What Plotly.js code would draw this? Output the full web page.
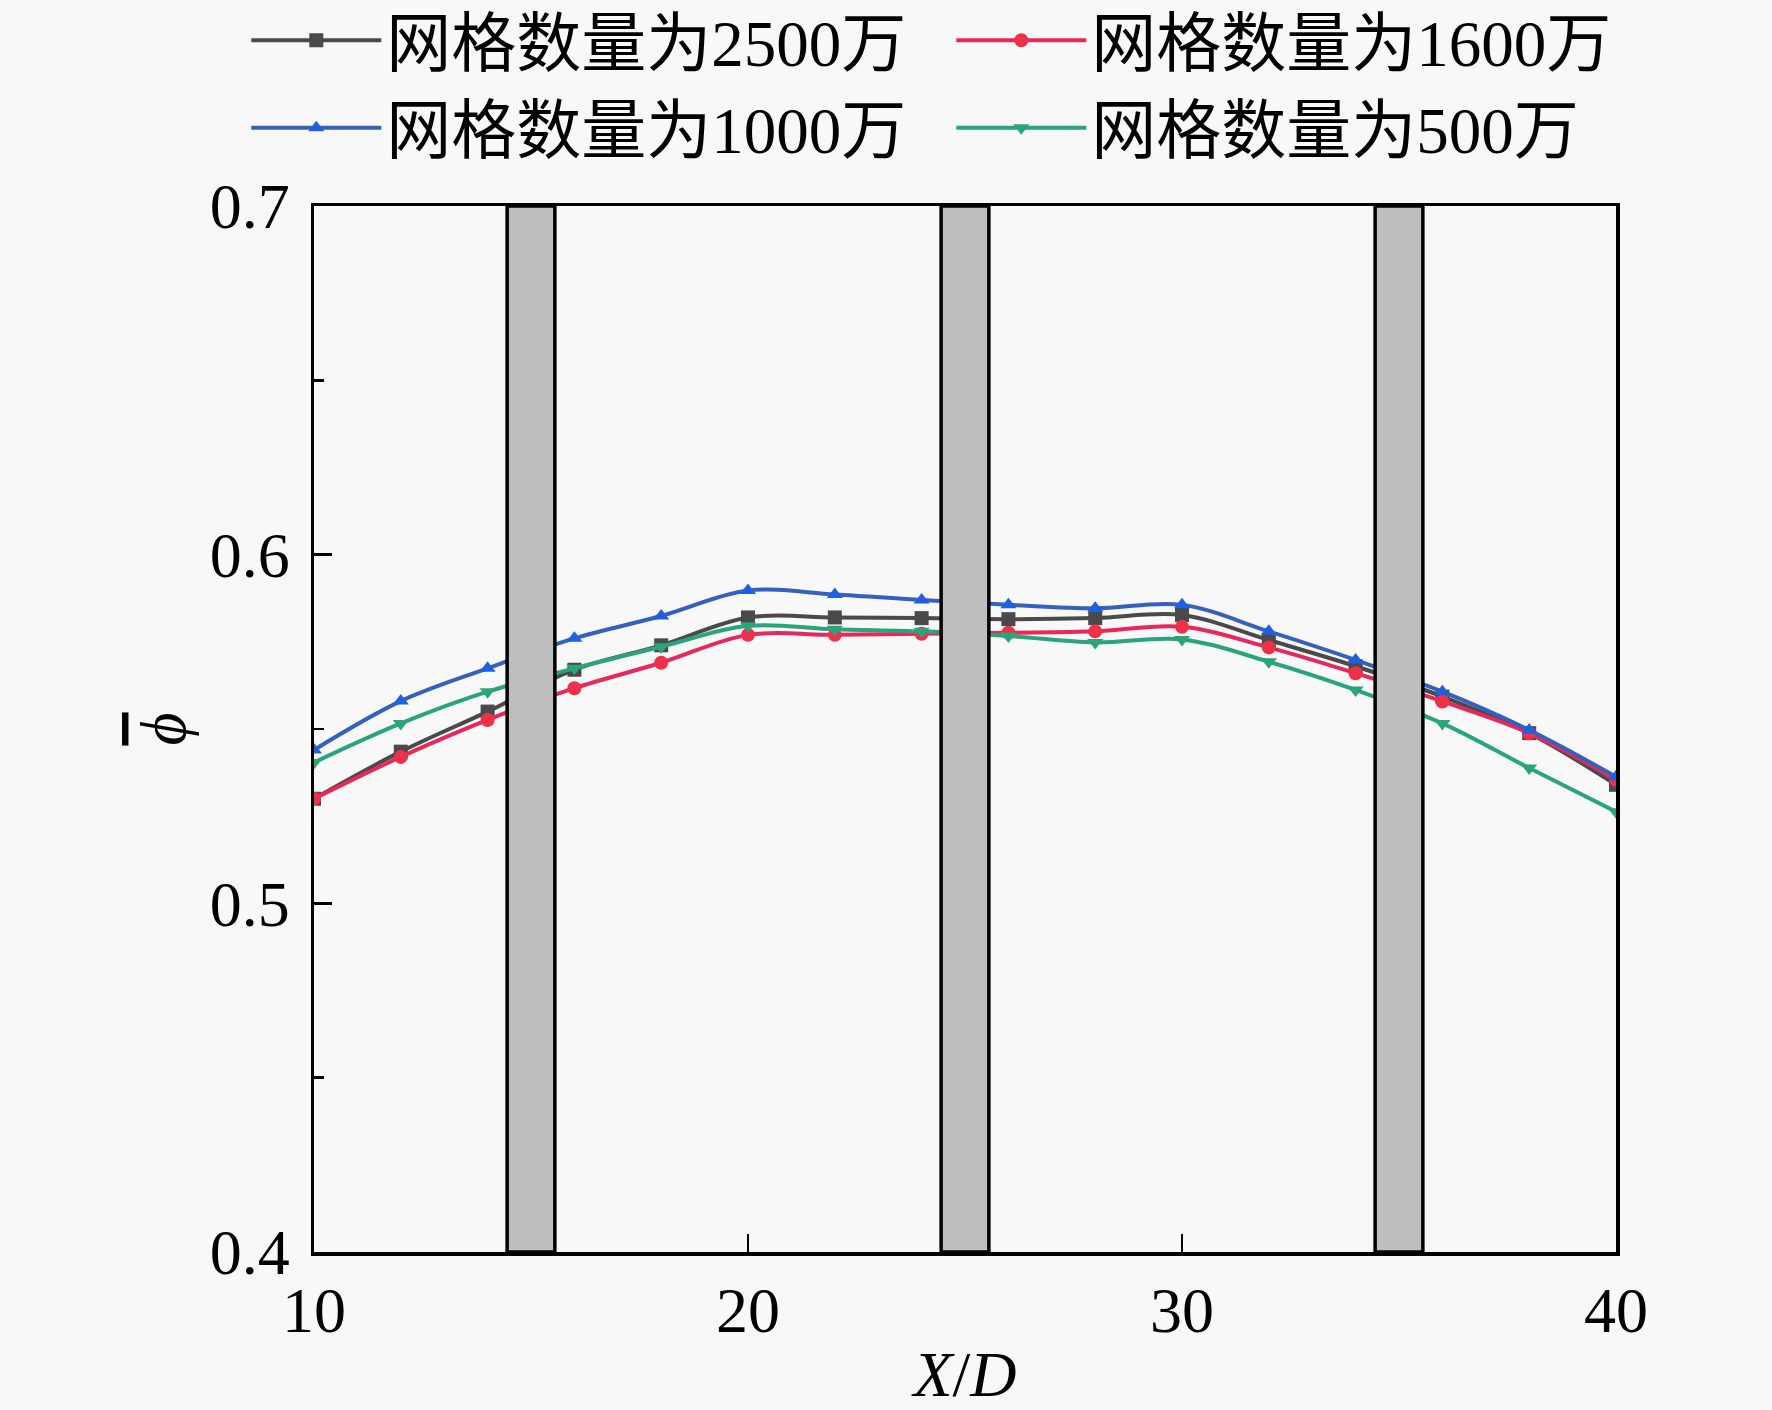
<!DOCTYPE html>
<html>
<head>
<meta charset="utf-8">
<script src="https://cdn.plot.ly/plotly-3.0.1.min.js"></script>
<style>
  html, body { margin: 0; padding: 0; background: #f8f8f8; }
  #chart { width: 1772px; height: 1410px; }
</style>
</head>
<body>
<div id="chart"></div>
<script>
// X/D positions of the sample points
const xPos = [10, 12, 14, 16, 18, 20, 22, 24, 26, 28, 30, 32, 34, 36, 38, 40];

// mean phi for each mesh size
const grid2500 = [0.530, 0.5435, 0.555, 0.567, 0.574, 0.582, 0.582, 0.5818, 0.5815, 0.5818, 0.5827, 0.5755, 0.568, 0.5593, 0.5488, 0.534];
const grid1600 = [0.530, 0.542, 0.5526, 0.5617, 0.569, 0.577, 0.577, 0.5773, 0.5776, 0.578, 0.5793, 0.5734, 0.566, 0.5579, 0.5488, 0.5354];
const grid1000 = [0.544, 0.558, 0.5674, 0.576, 0.5824, 0.5897, 0.5886, 0.587, 0.5856, 0.5846, 0.5856, 0.578, 0.5698, 0.5607, 0.5497, 0.5363];
const grid500  = [0.5404, 0.5516, 0.5607, 0.5674, 0.5736, 0.5796, 0.5786, 0.578, 0.5767, 0.5748, 0.5757, 0.5693, 0.5612, 0.5516, 0.5388, 0.5263];

const seriesNames = ['网格数量为2500万', '网格数量为1600万', '网格数量为1000万', '网格数量为500万'];

// grey bands (obstacles) along X/D
const bandStart = [14.45, 24.45, 34.45];
const bandEnd   = [15.55, 25.55, 35.55];

const yTicks = [0.4, 0.5, 0.6, 0.7];
const xTicks = [10, 20, 30, 40];

const FONT = 'Liberation Serif, Times New Roman, Noto Sans CJK SC, serif';

function makeTrace(name, y, color, symbol, markerColor) {
    return {
        x: xPos,
        y: y,
        name: name,
        type: 'scatter',
        mode: 'lines+markers',
        line: { color: color, width: 4, shape: 'spline', smoothing: 1 },
        marker: { color: markerColor || color, size: 14, symbol: symbol },
    };
}

const traces = [
    makeTrace(seriesNames[0], grid2500, '#4a4a4a', 'square'),
    makeTrace(seriesNames[1], grid1600, '#e8285a', 'circle', '#f0304a'),
    makeTrace(seriesNames[2], grid1000, '#3560c0', 'triangle-up', '#1f5fe0'),
    makeTrace(seriesNames[3], grid500, '#2aa47a', 'triangle-down'),
];

const shapes = bandStart.map((x0, i) => ({
    type: 'rect',
    xref: 'x', yref: 'paper',
    x0: x0, x1: bandEnd[i],
    y0: 0, y1: 1,
    fillcolor: '#bebebe',
    line: { color: '#000', width: 3.5 },
    layer: 'above',
}));

const layout = {
    width: 1772,
    height: 1410,
    paper_bgcolor: '#f8f8f8',
    plot_bgcolor: '#f8f8f8',
    font: { family: FONT, color: '#000', size: 62 },
    margin: { l: 314, r: 156, t: 206, b: 158, autoexpand: false },
    showlegend: true,
    legend: {
        orientation: 'h',
        x: -0.052, xanchor: 'left',
        y: 1.205, yanchor: 'top',
        entrywidth: 560, entrywidthmode: 'pixels',
        itemwidth: 130,
        tracegroupgap: 0,
        bgcolor: 'rgba(0,0,0,0)',
        font: { family: FONT, size: 65, color: '#000' },
    },
    xaxis: {
        range: [10, 40],
        tickvals: xTicks,
        ticktext: xTicks.map(String),
        ticks: 'inside',
        ticklen: 18,
        tickwidth: 2.5,
        tickcolor: '#000',
        showline: true,
        linecolor: '#000',
        linewidth: 3.5,
        mirror: true,
        showgrid: false,
        zeroline: false,
        tickfont: { family: FONT, size: 64 },
        title: { text: '<i>X</i>/<i>D</i>', font: { family: FONT, size: 64 }, standoff: 8 },
    },
    yaxis: {
        range: [0.4, 0.7],
        tickvals: yTicks,
        ticktext: yTicks.map(v => v.toFixed(1)),
        ticks: 'inside',
        ticklen: 18,
        tickwidth: 2.5,
        tickcolor: '#000',
        ticklabelstandoff: 8,
        minor: { tickvals: [0.45, 0.55, 0.65], ticks: 'inside', ticklen: 10, tickwidth: 2.5, tickcolor: '#000', showgrid: false },
        showline: true,
        linecolor: '#000',
        linewidth: 3.5,
        mirror: true,
        showgrid: false,
        zeroline: false,
        tickfont: { family: FONT, size: 64 },
        title: { text: '<span style="text-decoration:overline"><i>ϕ</i></span>', font: { family: FONT, size: 64 }, standoff: 4 },
    },
    shapes: shapes,
};

Plotly.newPlot('chart', traces, layout, { staticPlot: true });
</script>
</body>
</html>
